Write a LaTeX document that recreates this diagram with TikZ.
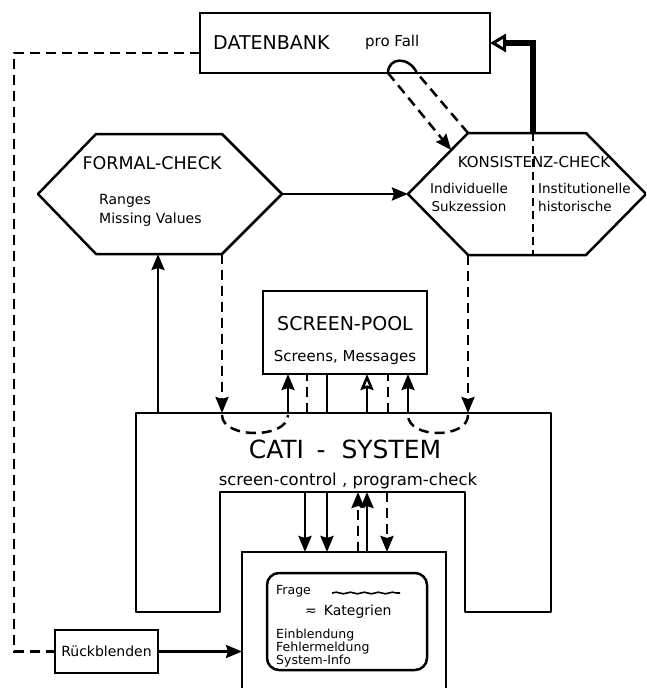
\documentclass[tikz,border=0pt]{standalone}
\usepackage{fontspec}
\setmainfont{DejaVu Sans}
\usepackage{tikz}
\usetikzlibrary{
  arrows.meta,
  positioning,
  calc,
  decorations.pathmorphing
}
\tikzset{
  area/.style={draw=none, inner sep=0pt, outer sep=0pt},
  pbox/.style={draw, line width=2.5pt, inner sep=2pt, outer sep=0pt},
  smallbox/.style={pbox, line width=2pt},
  catiframe/.style={line width=2.5pt, line join=round},
  plainline/.style={line width=2.5pt},
  dashline/.style={line width=2.5pt, dash pattern=on 10pt off 6pt},
  divline/.style={line width=1.8pt, dash pattern=on 8pt off 5pt},
  flow/.style={plainline, -{Stealth[length=16pt, width=13pt, inset=2pt]}},
  dashflow/.style={dashline, -{Stealth[length=16pt, width=13pt, inset=2pt]}},
  openflow/.style={plainline, -{Stealth[open, length=16pt, width=13pt, inset=2pt, line width=2.5pt]}},
  backflow/.style={line width=5.5pt, -{Triangle[open, length=16pt, width=18pt, line width=3pt]}},
  hugetxt/.style={font=\fontsize{25}{30}\selectfont, inner sep=1pt},
  bigtxt/.style={font=\fontsize{19}{23}\selectfont, inner sep=1pt},
  midtxt/.style={font=\fontsize{15}{18}\selectfont, inner sep=1pt},
  hextxt/.style={font=\fontsize{13.5}{18}\selectfont, inner sep=1pt},
  tinytxt/.style={font=\fontsize{12.5}{11.5}\selectfont, inner sep=0pt}
}
\begin{document}
\begin{tikzpicture}[x=1pt, y=-1pt]
  \useasboundingbox (0,0) rectangle (646,688);
  \clip (0,0) rectangle (646,688);

  % Datenbank
  \node[pbox, minimum width=290pt, minimum height=60pt] (db) at (345,43) {};
  \node[bigtxt, anchor=west] (dbname) at (212,43) {DATENBANK};
  \node[midtxt, anchor=west] (dbcase) at (364,42) {pro Fall};

  % check hexagons
  \node[area, minimum width=244pt, minimum height=120pt] (fc) at (160,194) {};
  \node[area, minimum width=238pt, minimum height=122pt] (kc) at (527,194) {};
  \draw[catiframe] (fc.west) -- ($(fc.north west)+(58,0)$) -- ($(fc.north east)+(-60,0)$)
    -- (fc.east) -- ($(fc.south east)+(-60,0)$) -- ($(fc.south west)+(58,0)$) -- cycle;
  \draw[catiframe] (kc.west) -- ($(kc.north west)+(60,0)$) -- ($(kc.north east)+(-60,0)$)
    -- (kc.east) -- ($(kc.south east)+(-60,0)$) -- ($(kc.south west)+(60,0)$) -- cycle;
  \node[bigtxt, font=\fontsize{17.5}{20}\selectfont] (fcname) at (152,163) {FORMAL-CHECK};
  \node[hextxt, anchor=west, align=left, font=\fontsize{14}{19}\selectfont] (fcitems) at (98,210) {Ranges\\Missing Values};
  \node[midtxt] (kcname) at (534,162) {KONSISTENZ-CHECK};
  \node[hextxt, align=center] (kcind) at (469,197) {Individuelle\\Sukzession};
  \node[hextxt, anchor=west, align=left] (kcinst) at (537,197) {Institutionelle\\historische};

  % Screen-Pool
  \node[pbox, minimum width=164pt, minimum height=83pt] (sp) at (345,332.5) {};
  \node[bigtxt] (spname) at (345,324) {SCREEN-POOL};
  \node[midtxt] (spitems) at (345,357) {Screens, Messages};

  % CATI-System
  \node[area, minimum width=415pt, minimum height=199pt] (cati) at (343.5,512.5) {};
  \node[area, minimum width=245pt, minimum height=120pt] (notch) at (342.5,552) {};
  \draw[catiframe] (notch.south west) -- (cati.south west) -- (cati.north west) -- (cati.north east)
    -- (cati.south east) -- (notch.south east) -- (notch.north east) -- (notch.north west) -- cycle;
  \node[hugetxt] (catiname) at (345,449) {CATI\enspace - \ SYSTEM};
  \node[midtxt, font=\fontsize{16.5}{19}\selectfont] (catictl) at (348,481) {screen-control , program-check};

  % Terminal
  \node[pbox, minimum width=204pt, minimum height=170pt] (term) at (344,637) {};
  \node[pbox, rounded corners=12pt, minimum width=160pt, minimum height=97pt] (scr) at (347,621.5) {};
  \node[tinytxt, anchor=west] (frage) at (276,591) {Frage};
  \draw[line width=1.6pt, decorate, decoration={snake, amplitude=0.8pt, segment length=14pt}]
    (332,593) -- (400,593);
  \node[tinytxt, anchor=west, font=\fontsize{14}{14}\selectfont] (kat) at (305,612) {≂\enspace Kategrien};
  \node[tinytxt, anchor=north west, align=left] (msgs) at (276,629) {Einblendung\\Fehlermeldung\\System-Info};

  % Rueckblenden
  \node[smallbox, minimum width=103pt, minimum height=43pt, font=\fontsize{14}{16}\selectfont] (rb) at (106.5,651.5) {Rückblenden};

  % connectors
  \draw[dashline] ($(db.west)+(0,10)$) -| ($(rb.west)+(-41,0)$) -- (rb.west);
  \draw[flow] (rb.east) -- (rb.east -| term.west);
  \draw[flow] (fc.east) -- (kc.west);
  \draw[flow] (158,0 |- cati.north) -- (158,0 |- fc.south);

  \coordinate (fcse) at ($(fc.south east)+(-60,0)$);
  \coordinate (inL) at (288,0 |- cati.north);
  \draw[dashflow] (fcse) -- (fcse |- cati.north);
  \draw[dashline] ($(fcse |- cati.north)+(0,2)$) .. controls +(0,24) and +(0,24) .. ($(inL)+(0,2)$);
  \draw[flow] (inL) -- (inL |- sp.south);

  \coordinate (kcsw) at ($(kc.south west)+(60,0)$);
  \coordinate (inR) at (408,0 |- cati.north);
  \draw[dashflow] (kcsw) -- (kcsw |- cati.north);
  \draw[dashline] ($(kcsw |- cati.north)+(0,2)$) .. controls +(0,24) and +(0,24) .. ($(inR)+(0,2)$);
  \draw[flow] (inR) -- (inR |- sp.south);

  \draw[dashline] (307,0 |- cati.north) -- (307,0 |- sp.south);
  \draw[plainline] (327,0 |- cati.north) -- (327,0 |- sp.south);
  \draw[openflow] (367,0 |- cati.north) -- (367,0 |- sp.south);
  \draw[dashline] (388,0 |- cati.north) -- (388,0 |- sp.south);

  \draw[flow] (305,0 |- notch.north) -- (305,0 |- term.north);
  \draw[flow] (327,0 |- notch.north) -- (327,0 |- term.north);
  \draw[dashflow] (358,0 |- term.north) -- (358,0 |- notch.north);
  \draw[flow] (367,0 |- term.north) -- (367,0 |- notch.north);
  \draw[dashflow] (387,0 |- notch.north) -- (387,0 |- term.north);

  % back to the Datenbank
  \coordinate (kcdiv) at (533,0 |- kc.north);
  \draw[divline] (kcdiv) -- (kcdiv |- kc.south);
  \draw[backflow] (kcdiv) |- (db.east);

  % pro Fall loop
  \coordinate (kcnw) at ($(kc.north west)+(60,0)$);
  \coordinate (loopR) at (417,0 |- db.south);
  \coordinate (loopL) at (388,0 |- db.south);
  \coordinate (kchit) at ($(kc.west)!0.72!(kcnw)$);
  \draw[dashline] (kcnw) -- (loopR);
  \draw[plainline] (loopR) .. controls +(-8,-17) and +(0,-16) .. (loopL);
  \draw[dashflow] (loopL) -- (kchit);
\end{tikzpicture}
\end{document}
